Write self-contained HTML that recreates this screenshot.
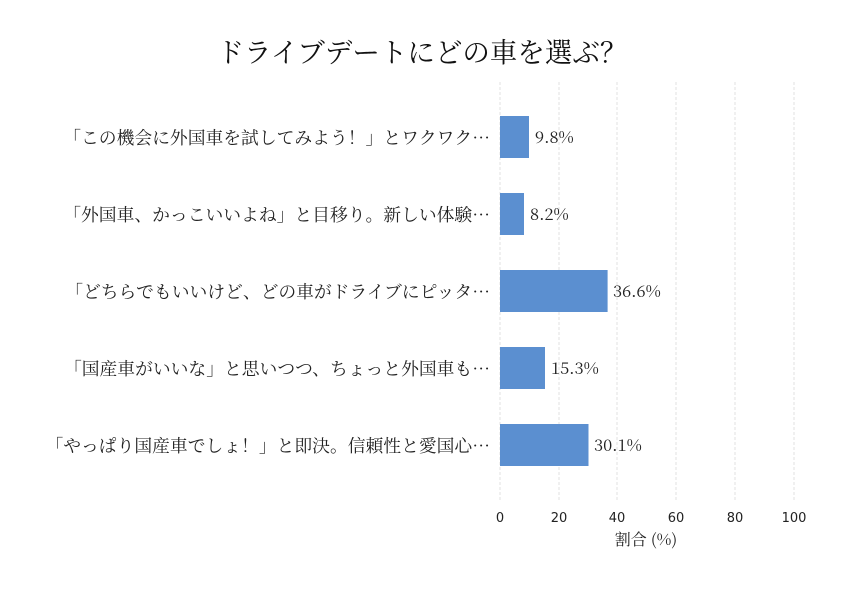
<!DOCTYPE html>
<html><head><meta charset="utf-8"><style>
html,body{margin:0;padding:0;background:#fff;}
</style></head><body>
<svg width="846" height="588" xmlns="http://www.w3.org/2000/svg">
<rect width="846" height="588" fill="#fff"/>
<text x="422" y="62" text-anchor="middle" font-family="'Noto Serif CJK SC', serif" font-size="27.5" fill="#111">ドライブデートにどの車を選ぶ？</text>
<g stroke="#d4d4d4" stroke-width="0.7" stroke-dasharray="3,2">
<line x1="559" y1="82" x2="559" y2="500"/>
<line x1="617" y1="82" x2="617" y2="500"/>
<line x1="676" y1="82" x2="676" y2="500"/>
<line x1="735" y1="82" x2="735" y2="500"/>
<line x1="794" y1="82" x2="794" y2="500"/>
<line x1="500" y1="82" x2="500" y2="500"/>
</g>
<g fill="#5b8fd0">
<rect x="500" y="116" width="29" height="42"/>
<rect x="500" y="193" width="24" height="42"/>
<rect x="500" y="270" width="107.6" height="42"/>
<rect x="500" y="347" width="45" height="42"/>
<rect x="500" y="424" width="88.5" height="42"/>
</g>
<g font-family="'Noto Serif CJK SC', serif" font-size="16.5" fill="#222">
<text x="535" y="143">9.8%</text>
<text x="530" y="220">8.2%</text>
<text x="613" y="297">36.6%</text>
<text x="551" y="374">15.3%</text>
<text x="594" y="451">30.1%</text>
</g>
<g font-family="'Noto Serif CJK SC', serif" font-size="17.8" fill="#222" text-anchor="end">
<text x="490" y="144">「この機会に外国車を試してみよう！」とワクワク…</text>
<text x="490" y="221">「外国車、かっこいいよね」と目移り。新しい体験…</text>
<text x="490" y="298">「どちらでもいいけど、どの車がドライブにピッタ…</text>
<text x="490" y="375">「国産車がいいな」と思いつつ、ちょっと外国車も…</text>
<text x="490" y="452">「やっぱり国産車でしょ！」と即決。信頼性と愛国心…</text>
</g>
<g font-family="'DejaVu Sans', sans-serif" font-size="13" fill="#222" text-anchor="middle">
<text x="500" y="522">0</text>
<text x="559" y="522">20</text>
<text x="617" y="522">40</text>
<text x="676" y="522">60</text>
<text x="735" y="522">80</text>
<text x="794" y="522">100</text>
</g>
<text x="646" y="545" text-anchor="middle" font-family="'Noto Serif CJK SC', serif" font-size="16" fill="#222">割合 (%)</text>
</svg>
</body></html>
